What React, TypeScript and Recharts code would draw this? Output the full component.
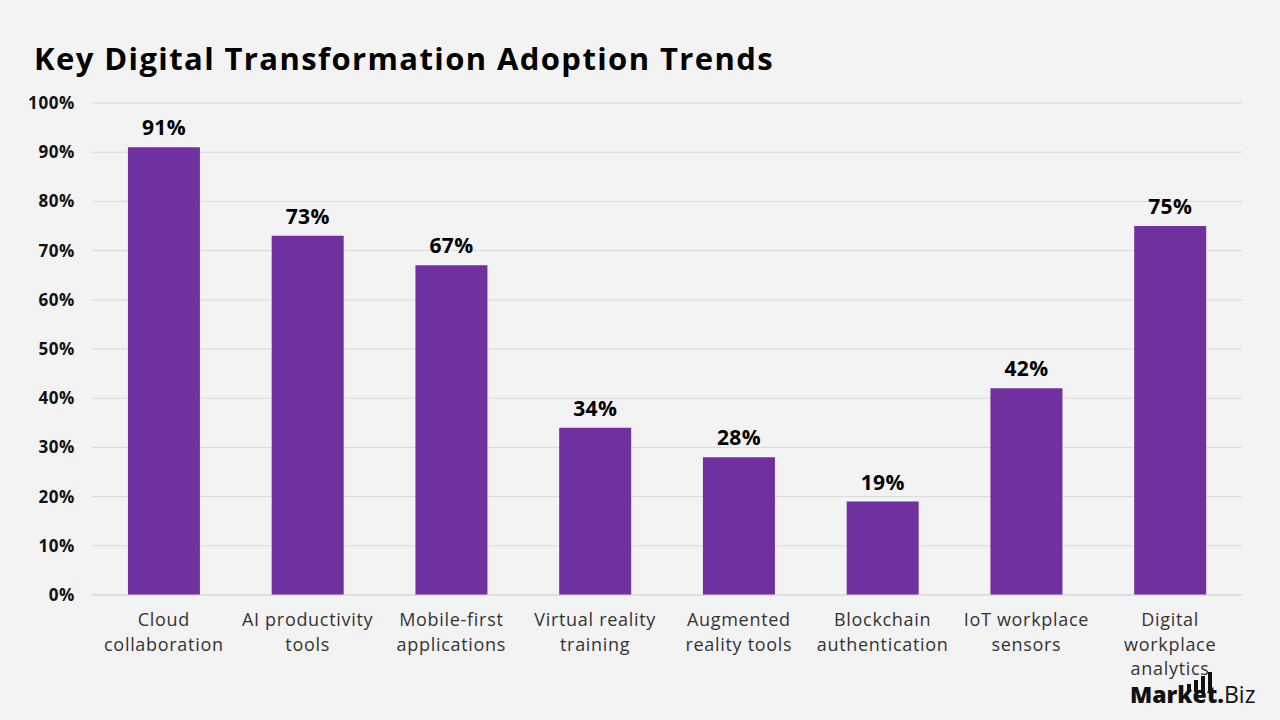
import React from 'react';
import { BarChart, Bar, XAxis, YAxis, CartesianGrid, LabelList } from 'recharts';

const categories = [
  'Cloud collaboration',
  'AI productivity tools',
  'Mobile-first applications',
  'Virtual reality training',
  'Augmented reality tools',
  'Blockchain authentication',
  'IoT workplace sensors',
  'Digital workplace analytics',
];
const adoption = [91, 73, 67, 34, 28, 19, 42, 75];
const yTicks = [0, 10, 20, 30, 40, 50, 60, 70, 80, 90, 100];

const data = categories.map((name, i) => ({ name, value: adoption[i] }));

const FONT = '"Open Sans", "DejaVu Sans", sans-serif';
const PURPLE = '#7030a0';

// break a label into lines of at most 16 characters
function wrap(text: string, max = 16): string[] {
  const lines: string[] = [];
  let cur = '';
  for (const word of text.split(' ')) {
    const next = cur ? cur + ' ' + word : word;
    if (next.length > max && cur) {
      lines.push(cur);
      cur = word;
    } else {
      cur = next;
    }
  }
  if (cur) lines.push(cur);
  return lines;
}

function CategoryTick(props: any) {
  const { x, y, payload } = props;
  const lines = wrap(payload.value);
  return (
    <g>
      {lines.map((l, i) => (
        <text
          key={i}
          x={x}
          y={y + 23 + i * 24.5}
          textAnchor="middle"
          fill="#333"
          fontSize={18}
          letterSpacing={0.7}
          fontFamily={FONT}
        >
          {l}
        </text>
      ))}
    </g>
  );
}

function Logo() {
  const bars = [8, 12, 16, 20];
  return (
    <div style={{ position: 'absolute', left: 1130, top: 672, fontFamily: FONT, color: '#111', lineHeight: 1 }}>
      <div style={{ position: 'absolute', left: 57, top: 0, display: 'flex', alignItems: 'flex-end', gap: 3, height: 20 }}>
        {bars.map((h, i) => (
          <div key={i} style={{ width: 4, height: h, background: '#111' }} />
        ))}
      </div>
      <div style={{ position: 'absolute', left: 0, top: 11, whiteSpace: 'nowrap', fontSize: 23 }}>
        <span style={{ fontWeight: 800 }}>Market.</span>
        <span style={{ fontWeight: 400 }}>Biz</span>
      </div>
    </div>
  );
}

export default function App() {
  return (
    <div style={{ position: 'absolute', left: 0, top: 0, width: 1280, height: 720, background: '#f3f3f3', overflow: 'hidden' }}>
      <div
        style={{
          position: 'absolute',
          left: 34,
          top: 37,
          fontFamily: FONT,
          fontWeight: 700,
          fontSize: 31,
          letterSpacing: 1.4,
          color: '#000',
          whiteSpace: 'nowrap',
        }}
      >
        Key Digital Transformation Adoption Trends
      </div>
      <BarChart
        width={1280}
        height={720}
        data={data}
        margin={{ top: 103, right: 38, bottom: 0, left: 0 }}
        barCategoryGap="25%"
      >
        <CartesianGrid vertical={false} stroke="#d9d9d9" />
        <XAxis
          dataKey="name"
          interval={0}
          height={125}
          tickLine={false}
          axisLine={{ stroke: '#d9d9d9' }}
          tick={<CategoryTick />}
        />
        <YAxis
          width={92}
          domain={[0, 100]}
          ticks={yTicks}
          interval={0}
          tickFormatter={(v: number) => `${v}%`}
          axisLine={false}
          tickLine={false}
          tickSize={0}
          tickMargin={17}
          tick={{ fill: '#111', fontSize: 17, fontWeight: 700, fontFamily: FONT, letterSpacing: 0.6 }}
        />
        <Bar dataKey="value" fill={PURPLE} isAnimationActive={false}>
          <LabelList
            dataKey="value"
            position="top"
            offset={12}
            formatter={(v: any) => `${v}%`}
            style={{ fill: '#000', fontSize: 21, fontWeight: 700, fontFamily: FONT, letterSpacing: 0.3 }}
          />
        </Bar>
      </BarChart>
      <Logo />
    </div>
  );
}
